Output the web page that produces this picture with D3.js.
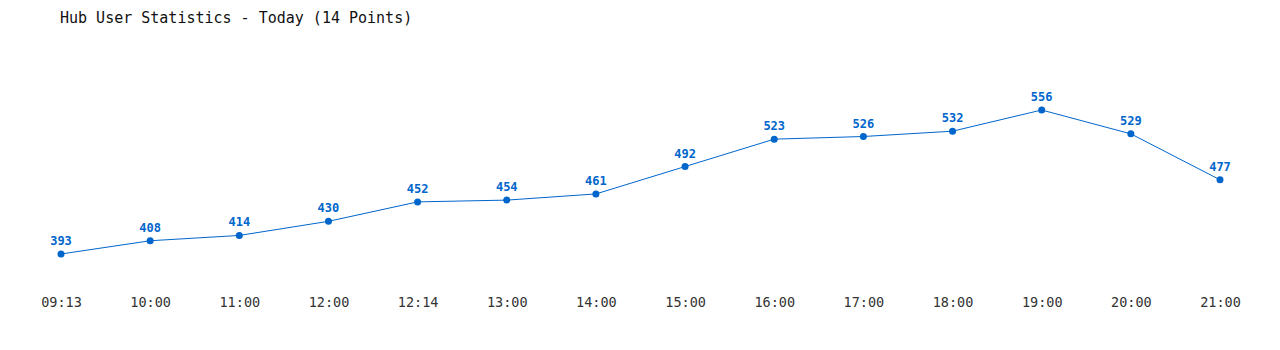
<!DOCTYPE html>
<html>
<head>
<meta charset="utf-8">
<script src="https://cdn.jsdelivr.net/npm/d3@7"></script>
<style>
  body { margin: 0; background: #fff; }
  text { font-family: "DejaVu Sans Mono", "Liberation Mono", monospace; }
</style>
</head>
<body>
<svg id="vis" width="1280" height="350"></svg>
<script>
// data
let times = ["09:13", "10:00", "11:00", "12:00", "12:14", "13:00", "14:00",
             "15:00", "16:00", "17:00", "18:00", "19:00", "20:00", "21:00"];
let users = [393, 408, 414, 430, 452, 454, 461, 492, 523, 526, 532, 556, 529, 477];
let title = "Hub User Statistics - Today (14 Points)";

let margin = { top: 110, right: 60, bottom: 96, left: 61 };
let svg = d3.select("#vis");
let width = +svg.attr("width") - margin.left - margin.right;
let height = +svg.attr("height") - margin.top - margin.bottom;

let g = svg.append("g").attr("transform", `translate(${margin.left}, ${margin.top})`);

let x = d3.scalePoint()
    .domain(times)
    .range([0, width]);
let y = d3.scaleLinear()
    .domain([d3.min(users), d3.max(users)])
    .range([height, 0]);

let data = times.map((t, i) => ({ t: t, v: users[i] }));

svg.append("text")
    .attr("x", 60)
    .attr("y", 23)
    .attr("fill", "#111")
    .style("font-size", "15px")
    .text(title);

// x axis, labels only
let xAxis = g.append("g")
    .attr("transform", `translate(0, ${height + 43})`)
    .call(d3.axisBottom(x).tickSize(0).tickPadding(0));
xAxis.select(".domain").remove();
xAxis.selectAll("text")
    .attr("fill", "#333")
    .style("font-size", "13.5px")
    .style("font-family", "'DejaVu Sans Mono', monospace");

let line = d3.line()
    .x(d => x(d.t))
    .y(d => y(d.v));

g.append("path")
    .datum(data)
    .attr("fill", "none")
    .attr("stroke", "#0066cc")
    .attr("stroke-width", 1)
    .attr("d", line);

g.selectAll(".dot")
    .data(data)
    .enter().append("circle")
        .attr("class", "dot")
        .attr("cx", d => x(d.t))
        .attr("cy", d => y(d.v))
        .attr("r", 3.5)
        .attr("fill", "#0066cc");

g.selectAll(".lbl")
    .data(data)
    .enter().append("text")
        .attr("class", "lbl")
        .attr("x", d => x(d.t))
        .attr("y", d => y(d.v) - 9)
        .attr("text-anchor", "middle")
        .attr("fill", "#0066cc")
        .style("font-size", "12px")
        .style("font-weight", "bold")
        .text(d => d.v);
</script>
</body>
</html>
